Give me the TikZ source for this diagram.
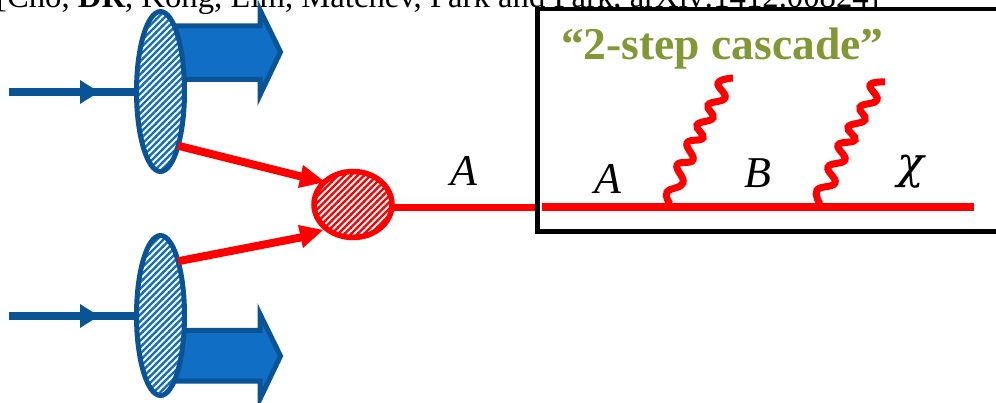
\documentclass[tikz,border=0pt]{standalone}
\usepackage{fontspec}
\setmainfont{Liberation Serif}
\usetikzlibrary{patterns,shapes.geometric}
\definecolor{dblue}{RGB}{10,84,150}
\definecolor{mblue}{RGB}{16,110,196}
\definecolor{olivegreen}{RGB}{130,152,52}
\pgfdeclarepatternformonly{hatchx}{\pgfqpoint{-1pt}{-1pt}}{\pgfqpoint{7.5pt}{7.5pt}}{\pgfqpoint{6.5pt}{6.5pt}}{
 \pgfsetlinewidth{2.4pt}
 \pgfpathmoveto{\pgfqpoint{-1pt}{-1pt}}
 \pgfpathlineto{\pgfqpoint{7.5pt}{7.5pt}}
 \pgfusepath{stroke}
}
\tikzset{
 blob/.style={ellipse,inner sep=0pt,outer sep=0pt,preaction={fill=white},pattern=hatchx},
 blueblob/.style={blob,draw=dblue,line width=5pt,pattern color=mblue,minimum width=48pt,minimum height=160pt},
 redblob/.style={blob,draw=red,line width=5.5pt,pattern color=red,minimum width=78pt,minimum height=66pt},
 bigarrow/.style={draw=dblue,line width=5pt,fill=mblue,miter limit=10},
 redline/.style={draw=red,line width=8pt},
 inline/.style={draw=dblue,line width=8pt},
 wav/.style={draw=red,line width=7pt},
 lbl/.style={inner sep=0pt,font=\fontsize{44}{44}\selectfont\itshape},
}
\begin{document}
\begin{tikzpicture}[x=1pt,y=-1pt]
\useasboundingbox (0,0) rectangle (996,403);
\clip (0,0) rectangle (996,403);
% top citation
\node[anchor=base west,inner sep=0pt,font=\fontsize{32.7}{33}\selectfont] (cite) at (-4,8) {[Cho, \textbf{DR}, Kong, Lim, Matchev, Park and Park, arXiv:1412.00824]};
% big arrows
\draw[bigarrow] (170,26) -- (260,26) -- (260,10) -- (280.5,52) -- (260,95) -- (260,79.5) -- (170,79.5) -- cycle;
\draw[bigarrow] (170,330.5) -- (260,330.5) -- (260,314) -- (280.5,356) -- (260,399) -- (260,381) -- (170,381) -- cycle;
% hadron blobs
\node[blueblob] (e1) at (160.5,91.5) {};
\node[blueblob] (e2) at (160.5,315.5) {};
% incoming partons
\coordinate (in1) at (9,92);
\coordinate (in2) at (9,316);
\draw[inline] (in1) -- (e1.west |- in1);
\draw[inline] (in2) -- (e2.west |- in2);
\fill[dblue] (80,80) -- (99,92) -- (80,104) -- cycle;
\fill[dblue] (80,304) -- (99,316) -- (80,328) -- cycle;
% hard vertex
\node[redblob] (v) at (353,204.5) {};
\coordinate (tip1) at (325,182);
\coordinate (tip2) at (323,230);
\draw[redline] (e1.-72) -- (303,177);
\fill[red] (303,165) -- (tip1) -- (298,188) -- cycle;
\draw[redline] (e2.72) -- (303,237);
\fill[red] (298,225) -- (tip2) -- (303,248) -- cycle;
% box
\coordinate (bl) at (537.5,9);
\coordinate (br) at (1000,231.5);
\draw[black,line width=4.5pt,fill=white] (bl) rectangle (br);
% outgoing line
\coordinate (boxin) at (535,207.5);
\draw[draw=red,line width=7pt] (v.east |- boxin) -- (boxin);
% chain
\coordinate (c1) at (542,207);
\coordinate (c2) at (974,207);
\draw[redline] (c1) -- (c2);
% wavy lines
\draw[wav] plot[smooth,tension=0.75] coordinates {(670,204) (667,192) (683,183) (677,165) (693,160) (687,143) (703,138) (697,125) (713,118) (708,105) (725,98) (718,83) (733,78)};
\draw[wav] plot[smooth,tension=0.75] coordinates {(820,204) (817,190) (835,183) (828,167) (845,160) (838,145) (855,140) (848,127) (865,120) (860,107) (877,100) (870,85) (885,82)};
% labels
\node[lbl] (la) at (464,171) {A};
\node[lbl] (la2) at (608,179) {A};
\node[lbl] (lb) at (758,173) {B};
\node[lbl] (lc) at (911,172) {\fontspec{DejaVu Serif}\itshape χ};
\node[anchor=base west,inner sep=0pt,font=\fontsize{45.5}{46}\selectfont\bfseries,text=olivegreen] (title) at (561,60) {“2-step cascade”};
\end{tikzpicture}
\end{document}
